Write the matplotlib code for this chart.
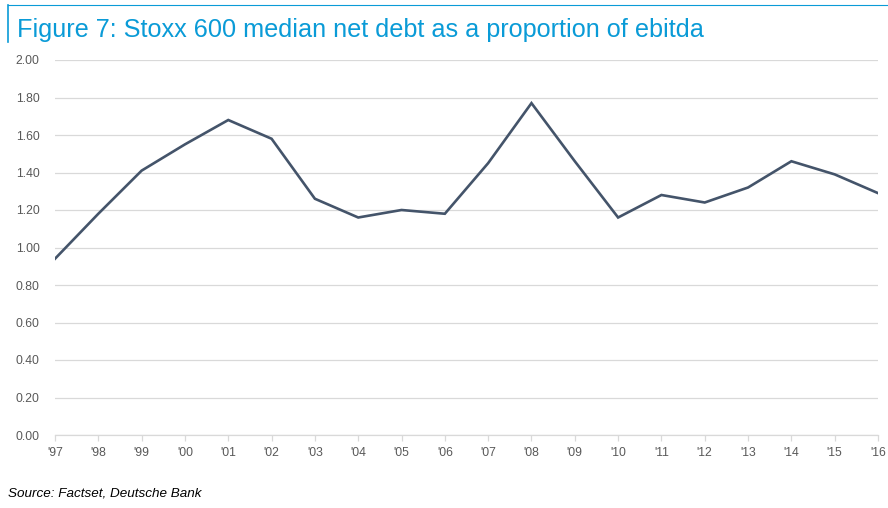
import matplotlib
matplotlib.use("Agg")
import matplotlib.pyplot as plt
from matplotlib.lines import Line2D

# Data
years = ["'97", "'98", "'99", "'00", "'01", "'02", "'03", "'04", "'05", "'06",
         "'07", "'08", "'09", "'10", "'11", "'12", "'13", "'14", "'15", "'16"]
net_debt_ebitda = [0.94, 1.18, 1.41, 1.55, 1.68, 1.58, 1.26, 1.16, 1.20, 1.18,
                   1.45, 1.77, 1.46, 1.16, 1.28, 1.24, 1.32, 1.46, 1.39, 1.29]
yticks = [0.0, 0.2, 0.4, 0.6, 0.8, 1.0, 1.2, 1.4, 1.6, 1.8, 2.0]

title = "Figure 7: Stoxx 600 median net debt as a proportion of ebitda"
source = "Source: Factset, Deutsche Bank"

plt.rcParams['font.family'] = ['Liberation Sans', 'DejaVu Sans']

fig = plt.figure(figsize=(8.88, 5.08), dpi=100)
ax = fig.add_axes([55 / 888, 1 - 435 / 508, 823 / 888, 375 / 508])

x = list(range(len(years)))
ax.plot(x, net_debt_ebitda, color='#44546a', linewidth=1.9, solid_joinstyle='miter')

ax.set_xlim(0, len(years) - 1)
ax.set_ylim(0, 2.0)
ax.set_yticks(yticks)
ax.set_yticklabels([f"{v:.2f}" for v in yticks])
ax.set_xticks(x)
ax.set_xticklabels(years)
ax.grid(axis='y', color='#d9d9d9', linewidth=0.9)
ax.set_axisbelow(True)

for side in ['top', 'right', 'left']:
    ax.spines[side].set_visible(False)
ax.spines['bottom'].set_color('#d9d9d9')
ax.spines['bottom'].set_linewidth(0.9)
ax.tick_params(axis='y', length=0, pad=11, labelsize=8.8, labelcolor='#595959')
ax.tick_params(axis='x', length=4, width=0.9, color='#d9d9d9', pad=5,
               labelsize=8.8, labelcolor='#595959')

# Title box with blue accent lines
blue = '#0a9bd7'
fig.add_artist(Line2D([8 / 888, 1.0], [1 - 5 / 508, 1 - 5 / 508], color=blue,
                      linewidth=0.8, transform=fig.transFigure))
fig.add_artist(Line2D([8 / 888, 8 / 888], [1 - 5 / 508, 1 - 42 / 508], color=blue,
                      linewidth=1.2, transform=fig.transFigure))
fig.text(17 / 888, 1 - 37 / 508, title, color=blue, fontsize=18.2, va='baseline')

fig.text(8 / 888, 1 - 497 / 508, source, fontsize=9.7, style='italic', color='#000000')

fig.savefig("out.png", dpi=100)
